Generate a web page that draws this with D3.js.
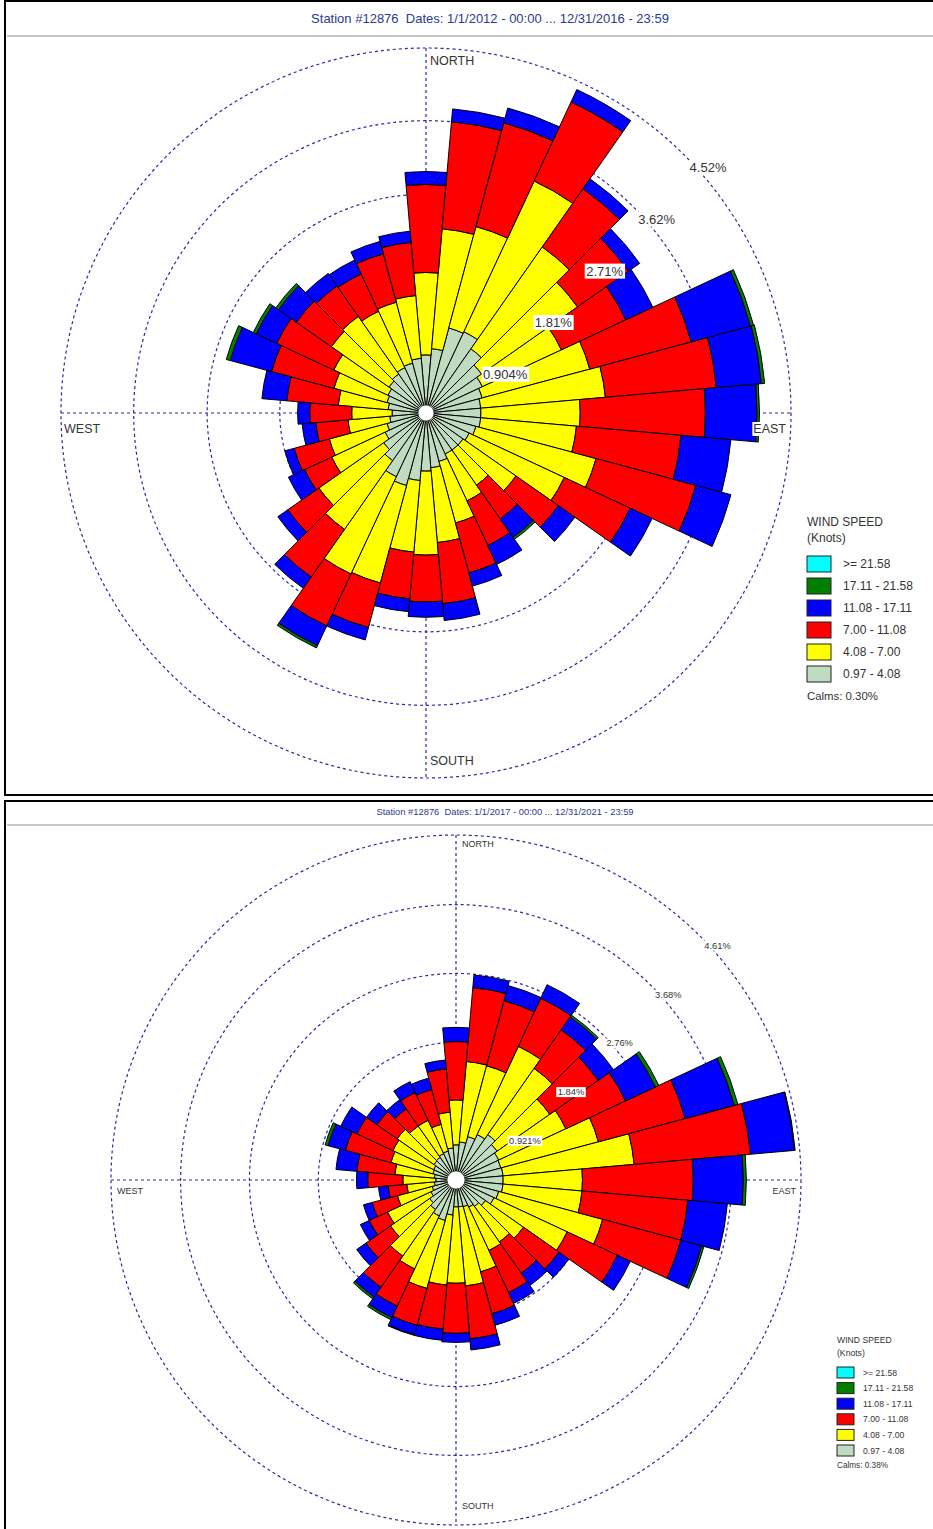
<!DOCTYPE html>
<html>
<head>
<meta charset="utf-8">
<script src="https://cdn.jsdelivr.net/npm/d3@7"></script>
<style>
body { margin: 0; background: #fff; }
svg text { font-family: "Liberation Sans", Arial, sans-serif; white-space: pre; }
</style>
</head>
<body>
<div id="chart"></div>
<script>
// 36 sectors of 10 degrees
var directions = d3.range(0, 360, 10);
var speedLabels = [">= 21.58", "17.11 - 21.58", "11.08 - 17.11", "7.00 - 11.08", "4.08 - 7.00", "0.97 - 4.08"];
var speedColors = ["#00ffff", "#008000", "#0000ff", "#ff0000", "#ffff00", "#c0dcc0"];
var stackKeys = ["grey", "yellow", "red", "blue", "green", "cyan"];
var keyColor = { grey: "#c0dcc0", yellow: "#ffff00", red: "#ff0000", blue: "#0000ff", green: "#008000", cyan: "#00ffff" };

// 2012 - 2016 (percent of hours, by direction 0..350)
var grey1   = [0.72,0.80,1.09,1.11,0.97,0.84,0.77,0.72,0.68,0.68,0.68,0.64,0.59,0.56,0.56,0.56,0.62,0.68,0.72,0.84,0.93,0.87,0.72,0.64,0.56,0.50,0.45,0.42,0.47,0.50,0.52,0.56,0.59,0.62,0.64,0.68];
var yellow1 = [1.02,1.49,1.30,2.06,1.54,1.45,1.08,1.38,1.55,1.23,1.19,1.54,1.30,0.80,0.53,0.64,0.79,0.93,1.04,0.89,1.25,1.33,1.04,0.98,0.73,0.74,0.52,0.50,0.62,0.68,0.74,0.87,0.87,0.77,0.78,0.78];
var red1    = [1.09,1.33,1.33,1.08,0.88,0.77,0.88,1.30,1.38,1.55,1.30,1.28,0.90,0.64,0.51,0.61,0.64,0.76,0.58,0.58,0.57,0.71,0.72,0.47,0.37,0.45,0.40,0.52,0.64,0.80,0.78,0.53,0.46,0.51,0.62,0.66];
var blue1   = [0.16,0.16,0.19,0.17,0.15,0.17,0.37,0.76,0.56,0.64,0.62,0.45,0.30,0.25,0.28,0.26,0.17,0.21,0.19,0.16,0.16,0.27,0.17,0.15,0.22,0.12,0.17,0.15,0.31,0.53,0.28,0.27,0.19,0.19,0.16,0.14];
var green1  = [0,0,0,0,0,0,0,0.04,0.04,0.03,0,0,0,0,0.03,0,0,0,0,0,0,0.03,0,0,0,0,0,0,0,0.05,0.04,0.04,0,0,0,0];
var cyan1   = directions.map(function() { return 0; });
var rings1 = [0.904, 1.81, 2.71, 3.62, 4.52];
var ringLabels1 = ["0.904%", "1.81%", "2.71%", "3.62%", "4.52%"];

// 2017 - 2021
var grey2   = [0.47,0.51,0.60,0.67,0.74,0.67,0.63,0.62,0.63,0.63,0.63,0.59,0.56,0.48,0.43,0.40,0.37,0.36,0.36,0.47,0.56,0.53,0.48,0.43,0.37,0.33,0.29,0.27,0.29,0.32,0.33,0.36,0.37,0.39,0.40,0.43];
var yellow2 = [0.60,1.08,0.98,1.30,1.08,0.86,0.99,1.35,1.76,1.06,1.06,1.44,1.08,0.62,0.58,0.64,0.90,1.06,1.02,0.94,0.94,0.78,0.76,0.64,0.64,0.48,0.37,0.44,0.53,0.58,0.60,0.60,0.51,0.49,0.37,0.48];
var red2    = [0.78,0.99,0.90,0.71,0.63,0.79,0.88,1.20,1.56,1.48,1.42,1.08,0.74,0.58,0.51,0.62,0.58,0.71,0.67,0.59,0.51,0.55,0.51,0.40,0.27,0.35,0.25,0.47,0.51,0.63,0.53,0.33,0.28,0.41,0.48,0.58];
var blue2   = [0.19,0.17,0.21,0.20,0.21,0.25,0.44,0.68,0.59,0.67,0.53,0.29,0.19,0.16,0.20,0.16,0.16,0.15,0.12,0.15,0.13,0.17,0.16,0.15,0.13,0.12,0.13,0.15,0.28,0.24,0.24,0.17,0.15,0.16,0.16,0.12];
var green2  = [0,0,0,0,0.03,0,0.05,0.05,0.01,0.04,0,0.03,0,0,0,0,0,0,0,0,0.01,0.03,0.03,0,0,0,0,0,0,0.04,0,0,0,0,0,0];
var cyan2   = directions.map(function() { return 0; });
var rings2 = [0.921, 1.84, 2.76, 3.68, 4.61];
var ringLabels2 = ["0.921%", "1.84%", "2.76%", "3.68%", "4.61%"];

var W = 933, H = 1529;
var svg = d3.select("#chart").append("svg").attr("width", W).attr("height", H);

var ringColor = "#2a2a9c";
var textColor = "#333";

function drawRose(p) {
    var g = svg.append("g");

    // frame + title
    g.append("rect")
        .attr("x", p.frame[0]).attr("y", p.frame[1])
        .attr("width", p.frame[2]).attr("height", p.frame[3])
        .attr("fill", "#fff").attr("stroke", "#000").attr("stroke-width", 2);
    g.append("text")
        .attr("x", p.titleX).attr("y", p.titleY)
        .attr("text-anchor", "middle")
        .attr("font-size", 13 * p.fs)
        .attr("fill", "#2b3990")
        .text(p.title);
    g.append("line")
        .attr("x1", p.frame[0] + 2).attr("x2", W)
        .attr("y1", p.sepY).attr("y2", p.sepY)
        .attr("stroke", "#b4b4b4").attr("stroke-width", 1.5);

    var r = d3.scaleLinear().domain([0, d3.max(p.rings)]).range([0, p.R]);
    var c = g.append("g").attr("transform", "translate(" + p.cx + "," + p.cy + ")");

    // dashed rings and compass lines
    c.selectAll(".ring")
        .data(p.rings)
        .enter()
        .append("circle")
        .attr("class", "ring")
        .attr("r", function(d) { return r(d); })
        .attr("fill", "none")
        .attr("stroke", ringColor)
        .attr("stroke-width", 1.2)
        .attr("stroke-dasharray", "3,3");
    c.append("line").attr("x1", 0).attr("x2", 0).attr("y1", -p.R).attr("y2", p.R)
        .attr("stroke", ringColor).attr("stroke-width", 1.2).attr("stroke-dasharray", "3,3");
    c.append("line").attr("x1", -p.R).attr("x2", p.R).attr("y1", 0).attr("y2", 0)
        .attr("stroke", ringColor).attr("stroke-width", 1.2).attr("stroke-dasharray", "3,3");

    // stacked bars
    var rows = directions.map(function(d, i) {
        return { dir: d, grey: p.grey[i], yellow: p.yellow[i], red: p.red[i],
                 blue: p.blue[i], green: p.green[i], cyan: p.cyan[i] };
    });
    var layers = d3.stack().keys(stackKeys)(rows);
    var arc = d3.arc();
    layers.forEach(function(layer) {
        c.append("g")
            .selectAll("path")
            .data(layer.filter(function(d) { return d[1] - d[0] > 0; }))
            .enter()
            .append("path")
            .attr("d", function(d) {
                return arc({
                    innerRadius: r(d[0]),
                    outerRadius: r(d[1]),
                    startAngle: (d.data.dir - 5) * Math.PI / 180,
                    endAngle: (d.data.dir + 5) * Math.PI / 180
                });
            })
            .attr("fill", keyColor[layer.key])
            .attr("stroke", "#000")
            .attr("stroke-width", 1)
            .attr("stroke-linejoin", "round");
    });

    // calm hole
    c.append("circle").attr("r", p.hole).attr("fill", "#fff").attr("stroke", "#444").attr("stroke-width", 0.8);

    // ring labels, with a white box
    var fsRing = 13 * p.fs;
    p.rings.forEach(function(v, i) {
        var px = r(v) * Math.SQRT1_2 + 4 * p.fs, py = -r(v) * Math.SQRT1_2 + 5 * p.fs;
        var t = c.append("text")
            .attr("x", px + 1.5).attr("y", py + fsRing * 0.95)
            .attr("font-size", fsRing)
            .attr("fill", textColor)
            .text(p.ringLabels[i]);
        var bb = t.node().getBBox();
        c.insert("rect", function() { return t.node(); })
            .attr("x", bb.x - 1.5).attr("y", bb.y)
            .attr("width", bb.width + 3).attr("height", bb.height)
            .attr("fill", "#fff");
    });

    // compass labels
    var fsC = 12.5 * p.fs;
    [["NORTH", p.north, "start"], ["SOUTH", p.south, "start"],
     ["WEST", p.west, "start"], ["EAST", p.east, "end"]].forEach(function(l) {
        var t = c.append("text")
            .attr("x", l[1][0]).attr("y", l[1][1])
            .attr("text-anchor", l[2])
            .attr("font-size", fsC)
            .attr("fill", textColor)
            .text(l[0]);
        var bb = t.node().getBBox();
        c.insert("rect", function() { return t.node(); })
            .attr("x", bb.x - 1).attr("y", bb.y)
            .attr("width", bb.width + 2).attr("height", bb.height)
            .attr("fill", "#fff");
    });

    // legend
    var L = p.legend, fsL = 12 * p.fs;
    var lg = g.append("g");
    lg.append("text").attr("x", L.x).attr("y", L.t1).attr("font-size", fsL).attr("fill", textColor).text("WIND SPEED");
    lg.append("text").attr("x", L.x).attr("y", L.t2).attr("font-size", fsL).attr("fill", textColor).text("(Knots)");
    var items = lg.selectAll(".item")
        .data(speedLabels)
        .enter()
        .append("g")
        .attr("transform", function(d, i) { return "translate(" + L.x + "," + (L.y0 + i * L.step) + ")"; });
    items.append("rect")
        .attr("width", L.w).attr("height", L.h)
        .attr("fill", function(d, i) { return speedColors[i]; })
        .attr("stroke", "#222").attr("stroke-width", 1);
    items.append("text")
        .attr("x", L.tx).attr("y", L.h / 2)
        .attr("dy", "0.35em")
        .attr("font-size", fsL)
        .attr("fill", textColor)
        .text(function(d) { return d; });
    lg.append("text").attr("x", L.x).attr("y", L.calmY).attr("font-size", fsL * 0.95).attr("fill", textColor).text(p.calms);
}

drawRose({
    frame: [5, 1, 940, 794], title: "Station #12876  Dates: 1/1/2012 - 00:00 ... 12/31/2016 - 23:59",
    titleX: 490, titleY: 23, sepY: 36, fs: 1,
    cx: 426, cy: 413, R: 365, hole: 8,
    rings: rings1, ringLabels: ringLabels1,
    grey: grey1, yellow: yellow1, red: red1, blue: blue1, green: green1, cyan: cyan1,
    north: [4, -348], south: [4, 352], west: [-362, 20], east: [360, 20],
    legend: { x: 807, t1: 526, t2: 542, y0: 556, step: 22, w: 24, h: 16, tx: 36, calmY: 700 },
    calms: "Calms: 0.30%"
});

drawRose({
    frame: [5, 801, 940, 740], title: "Station #12876  Dates: 1/1/2017 - 00:00 ... 12/31/2021 - 23:59",
    titleX: 505, titleY: 815, sepY: 825, fs: 0.72,
    cx: 456, cy: 1180, R: 345, hole: 9,
    rings: rings2, ringLabels: ringLabels2,
    grey: grey2, yellow: yellow2, red: red2, blue: blue2, green: green2, cyan: cyan2,
    north: [6, -333], south: [6, 329], west: [-339, 14], east: [340, 14],
    legend: { x: 837, t1: 1343, t2: 1356, y0: 1367, step: 15.6, w: 17, h: 11, tx: 26, calmY: 1468 },
    calms: "Calms: 0.38%"
});
</script>
</body>
</html>
